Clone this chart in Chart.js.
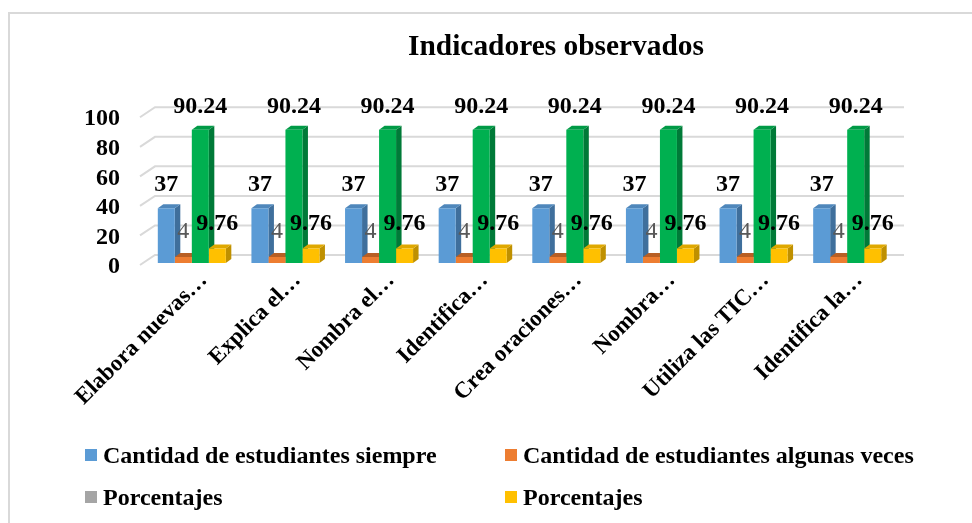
<!DOCTYPE html>
<html>
<head>
<meta charset="utf-8">
<title>Indicadores observados</title>
<script src="https://cdn.jsdelivr.net/npm/chart.js@4"></script>
<style>
    body { margin: 0; background: #fff; }
    #wrap { position: relative; width: 972px; height: 523px; overflow: hidden; font-family: "Liberation Serif", serif; }
    #frame { position: absolute; left: 8px; top: 12px; right: -4px; bottom: -4px; border: 2px solid #d9d9d9; }
    #chart { position: absolute; left: 0; top: 0; }
    .legend-item { position: absolute; font-weight: bold; font-size: 24px; line-height: 24px; color: #000; white-space: nowrap; }
    .legend-item i { position: absolute; left: -18px; top: 6px; width: 12px; height: 12px; }
</style>
</head>
<body>
<div id="wrap">
    <div id="frame"></div>
    <canvas id="chart" width="972" height="523"></canvas>
</div>
<script>
const chartTitle = 'Indicadores observados';
const categories = ['Elabora nuevas…', 'Explica el…', 'Nombra el…', 'Identifica…', 'Crea oraciones…', 'Nombra…', 'Utiliza las TIC…', 'Identifica la…'];
const siempre = [37, 37, 37, 37, 37, 37, 37, 37];
const algunasVeces = [4, 4, 4, 4, 4, 4, 4, 4];
const porcentajesSiempre = [90.24, 90.24, 90.24, 90.24, 90.24, 90.24, 90.24, 90.24];
const porcentajesAlgunas = [9.76, 9.76, 9.76, 9.76, 9.76, 9.76, 9.76, 9.76];
const yTicks = [0, 20, 40, 60, 80, 100];

const serif = '"Liberation Serif", serif';

// front, top and side colours of each series, legendColor is what the legend shows
const series = [
    { label: 'Cantidad de estudiantes siempre', data: siempre, front: '#5b9bd5', top: '#4f87bb', side: '#3f6f9c', legendColor: '#5b9bd5' },
    { label: 'Cantidad de estudiantes algunas veces', data: algunasVeces, front: '#ed7d31', top: '#b85f24', side: '#b05c22', legendColor: '#ed7d31' },
    { label: 'Porcentajes', data: porcentajesSiempre, front: '#00b050', top: '#009a46', side: '#007a38', legendColor: '#a5a5a5' },
    { label: 'Porcentajes', data: porcentajesAlgunas, front: '#ffc000', top: '#dfa800', side: '#bf9000', legendColor: '#ffc000' }
];

// Label look and offsets for each series
const labelStyle = [
    { font: 'bold 24px ' + serif, color: '#000', dy: -12 },
    { font: '24px ' + serif, color: '#595959', dy: -13 },
    { font: 'bold 24px ' + serif, color: '#000', dy: -11 },
    { font: 'bold 24px ' + serif, color: '#000', dy: -13 }
];

const depth = { x: 5.5, y: 4 };
const wall = { x: 10, y: -8 };
const floorEdge = { x: -5, y: 2 };

// Back wall grid lines, with the short diagonal on the left
// and the top and side faces of the bars, all under the bar fronts
const wallAndFaces = {
    id: 'wallAndFaces',
    beforeDatasetsDraw(chart) {
        const { ctx, chartArea, scales } = chart;
        ctx.save();
        ctx.strokeStyle = '#d9d9d9';
        ctx.lineWidth = 2;
        yTicks.forEach(v => {
            const y = scales.y.getPixelForValue(v);
            ctx.beginPath();
            ctx.moveTo(chartArea.left + floorEdge.x, y + floorEdge.y);
            ctx.lineTo(chartArea.left + wall.x, y + wall.y);
            ctx.lineTo(chartArea.right + wall.x, y + wall.y);
            ctx.stroke();
        });

        const fill = pts => {
            ctx.beginPath();
            pts.forEach((p, i) => i ? ctx.lineTo(p[0], p[1]) : ctx.moveTo(p[0], p[1]));
            ctx.closePath();
            ctx.fill();
        };
        series.forEach((s, i) => {
            chart.getDatasetMeta(i).data.forEach(bar => {
                const l = bar.x - bar.width / 2;
                const r = bar.x + bar.width / 2;
                ctx.fillStyle = s.side;
                fill([[r, bar.y], [r + depth.x, bar.y - depth.y], [r + depth.x, bar.base - depth.y], [r, bar.base]]);
                ctx.fillStyle = s.top;
                fill([[l, bar.y], [l + depth.x, bar.y - depth.y], [r + depth.x, bar.y - depth.y], [r, bar.y]]);
            });
        });
        ctx.restore();
    }
};

// Value labels over the bars
const valueLabels = {
    id: 'valueLabels',
    afterDatasetsDraw(chart) {
        const { ctx } = chart;
        ctx.save();
        ctx.textAlign = 'center';
        ctx.textBaseline = 'bottom';
        chart.data.datasets.forEach((ds, i) => {
            const st = labelStyle[i];
            ctx.font = st.font;
            ctx.fillStyle = st.color;
            chart.getDatasetMeta(i).data.forEach((bar, j) => {
                ctx.fillText(String(ds.data[j]), bar.x, bar.y + st.dy);
            });
        });
        ctx.restore();
    }
};

// The title sits right of the plot centre in the original
const titleShift = {
    id: 'titleShift',
    beforeDraw(chart) {
        chart.titleBlock.left = 140;
        chart.titleBlock.right = 972;
    }
};

const chart = new Chart(document.getElementById('chart').getContext('2d'), {
    type: 'bar',
    data: {
        labels: categories,
        datasets: series.map(s => ({
            label: s.label,
            data: s.data,
            backgroundColor: s.front,
            categoryPercentage: 0.7265,
            barPercentage: 1
        }))
    },
    options: {
        responsive: false,
        animation: false,
        devicePixelRatio: 1,
        layout: { padding: { left: 80, right: 78, top: 30, bottom: 0 } },
        plugins: {
            legend: { display: false },
            tooltip: { enabled: false },
            title: {
                display: true,
                text: chartTitle,
                color: '#000',
                font: { family: serif, size: 29.4, weight: 'bold' },
                padding: { top: 0, bottom: 50 }
            }
        },
        scales: {
            x: {
                grid: { display: false },
                border: { display: false },
                ticks: {
                    color: '#000',
                    font: { family: serif, size: 23, weight: 'bold' },
                    minRotation: 45,
                    maxRotation: 45,
                    padding: -4,
                    labelOffset: 12,
                    autoSkip: false
                },
                afterFit(scale) { scale.height = 260; }
            },
            y: {
                min: 0,
                max: 100,
                grid: { display: false },
                border: { display: false },
                afterBuildTicks(scale) { scale.ticks = yTicks.map(v => ({ value: v })); },
                ticks: {
                    color: '#000',
                    font: { family: serif, size: 24, weight: 'bold' },
                    padding: 17,
                    labelOffset: 4,
                    autoSkip: false
                },
                afterFit(scale) { scale.width = 65; }
            }
        }
    },
    plugins: [titleShift, wallAndFaces, valueLabels]
});

// HTML legend in two columns, built from the series
const legendPos = [[103, 443], [523, 443], [103, 485], [523, 485]];
series.forEach((s, i) => {
    const item = document.createElement('div');
    item.className = 'legend-item';
    item.style.left = legendPos[i][0] + 'px';
    item.style.top = legendPos[i][1] + 'px';
    item.innerHTML = `<i style="background:${s.legendColor}"></i>${s.label}`;
    document.getElementById('wrap').appendChild(item);
});
</script>
</body>
</html>
